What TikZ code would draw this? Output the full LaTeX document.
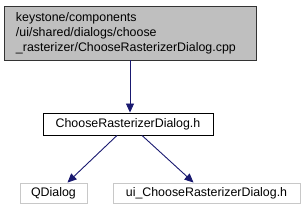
\documentclass[tikz,border=0pt]{standalone}
\usepackage{fontspec}
\setmainfont{Liberation Sans}
\usetikzlibrary{arrows.meta,positioning}
\definecolor{edgeblue}{RGB}{25,25,112}
\definecolor{filegray}{RGB}{191,191,191}
\definecolor{extgray}{RGB}{200,200,200}

\begin{document}
\begin{tikzpicture}[x=1pt, y=-1pt,
    every node/.style={font=\fontsize{12.4}{15}\selectfont, inner sep=0pt},
    rootfile/.style={draw=black!80, fill=filegray, line width=0.9pt, align=left,
      text width=228pt, inner xsep=12pt, minimum height=54pt},
    header/.style={draw=black, fill=white, line width=0.9pt, minimum width=170pt, minimum height=22pt},
    extfile/.style={draw=extgray, fill=white, line width=0.9pt, minimum height=20pt},
    dep/.style={edgeblue, line width=0.9pt, -{Triangle[length=9pt,width=8pt]}}]
  \useasboundingbox (0,0) rectangle (308,216);
  % files
  \node[rootfile] (cpp) at (130,33) {keystone/components\\/ui/shared/dialogs/choose\\\_rasterizer/ChooseRasterizerDialog.cpp};
  \node[header] (hdr) at (128,124) {ChooseRasterizerDialog.h};
  \node[extfile, minimum width=67pt] (qdlg) at (53.5,193) {QDialog};
  \node[extfile, minimum width=187pt] (uihdr) at (206.5,193) {ui\_ChooseRasterizerDialog.h};
  % includes
  \draw[dep] (cpp.south -| hdr.north) ++(2,0) -- ([xshift=2pt]hdr.north);
  \draw[dep] ([xshift=-11pt]hdr.south) -- ([xshift=14pt]qdlg.north);
  \draw[dep] ([xshift=14pt]hdr.south) -- ([xshift=-13pt]uihdr.north);
\end{tikzpicture}
\end{document}
